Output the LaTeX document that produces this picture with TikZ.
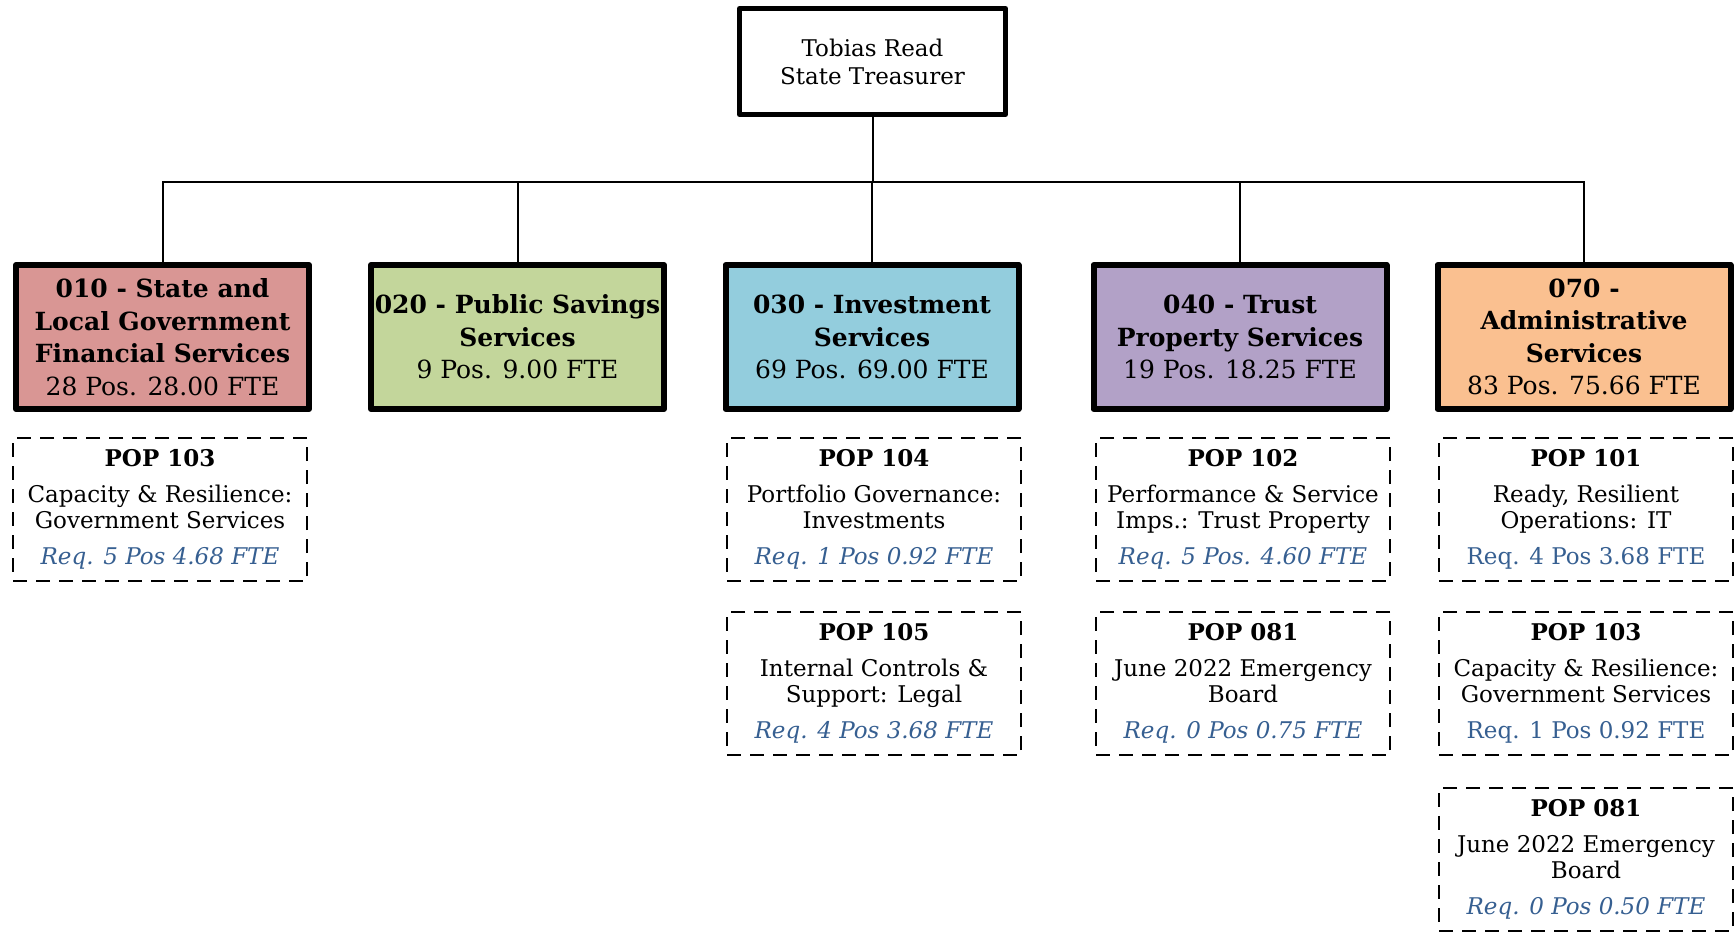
\documentclass[tikz,border=0pt]{standalone}
\usepackage{fontspec}
\setmainfont{DejaVu Serif}
\definecolor{unitred}{HTML}{D99694}
\definecolor{unitgreen}{HTML}{C3D69B}
\definecolor{unitblue}{HTML}{93CDDD}
\definecolor{unitpurple}{HTML}{B2A1C7}
\definecolor{unitorange}{HTML}{FAC090}
\definecolor{reqblue}{HTML}{365F91}
\tikzset{
  chief/.style={draw, line width=2.5pt, line join=round, minimum width=133pt,
    minimum height=53pt, inner sep=0pt, align=center,
    font=\fontsize{11.5}{14}\selectfont},
  unit/.style={draw, line width=3pt, line join=round, minimum width=146.5pt,
    minimum height=72pt, inner sep=0pt, align=center,
    font=\fontsize{12.5}{16.25}\selectfont},
  pop/.style={draw, dash pattern=on 7pt off 4.5pt, line width=1.35pt,
    minimum width=147pt, minimum height=71.5pt, inner sep=0pt, align=center,
    font=\fontsize{11.5}{13}\selectfont},
  link/.style={line width=1pt},
}
\newcommand{\reqline}[1]{{\color{reqblue}\itshape #1}}
\begin{document}
\begin{tikzpicture}[x=0.5pt, y=-0.5pt]
  \useasboundingbox (0,0) rectangle (1736,934);

  % head of the office
  \node[chief] (head) at (872.5,61.5) {Tobias Read\\State Treasurer};

  % divisions
  \node[unit, fill=unitred]    (d010) at (162.5,337) {\textbf{010 - State and}\\\textbf{Local Government}\\\textbf{Financial Services}\\28 Pos. 28.00 FTE};
  \node[unit, fill=unitgreen]  (d020) at (517.5,337) {\textbf{020 - Public Savings}\\\textbf{Services}\\9 Pos. 9.00 FTE};
  \node[unit, fill=unitblue]   (d030) at (872,337)   {\textbf{030 - Investment}\\\textbf{Services}\\69 Pos. 69.00 FTE};
  \node[unit, fill=unitpurple] (d040) at (1240,337)  {\textbf{040 - Trust}\\\textbf{Property Services}\\19 Pos. 18.25 FTE};
  \node[unit, fill=unitorange] (d070) at (1584,337)  {\textbf{070 -}\\\textbf{Administrative}\\\textbf{Services}\\83 Pos. 75.66 FTE};

  % connectors
  \coordinate (bus) at (872.5,182);
  \draw[link] (head.south) -- (bus);
  \foreach \d in {d010,d020,d030,d040,d070}
    \draw[link] (bus) -| (\d.north);

  % policy option packages
  \node[pop] (p010a) at (160,509.5) {\textbf{POP 103}\\[5pt]Capacity \& Resilience:\\Government Services\\[5pt]\reqline{Req. 5 Pos 4.68 FTE}};

  \node[pop] (p030a) at (874,509.5) {\textbf{POP 104}\\[5pt]Portfolio Governance:\\Investments\\[5pt]\reqline{Req. 1 Pos 0.92 FTE}};
  \node[pop] (p030b) at (874,683.5) {\textbf{POP 105}\\[5pt]Internal Controls \&\\Support: Legal\\[5pt]\reqline{Req. 4 Pos 3.68 FTE}};

  \node[pop] (p040a) at (1243,509.5) {\textbf{POP 102}\\[5pt]Performance \& Service\\Imps.: Trust Property\\[5pt]\reqline{Req. 5 Pos. 4.60 FTE}};
  \node[pop] (p040b) at (1243,683.5) {\textbf{POP 081}\\[5pt]June 2022 Emergency\\Board\\[5pt]\reqline{Req. 0 Pos 0.75 FTE}};

  \node[pop] (p070a) at (1586,509.5) {\textbf{POP 101}\\[5pt]Ready, Resilient\\Operations: IT\\[5pt]{\color{reqblue}Req. 4 Pos 3.68 FTE}};
  \node[pop] (p070b) at (1586,683.5) {\textbf{POP 103}\\[5pt]Capacity \& Resilience:\\Government Services\\[5pt]{\color{reqblue}Req. 1 Pos 0.92 FTE}};
  \node[pop] (p070c) at (1586,859.5) {\textbf{POP 081}\\[5pt]June 2022 Emergency\\Board\\[5pt]\reqline{Req. 0 Pos 0.50 FTE}};
\end{tikzpicture}
\end{document}
